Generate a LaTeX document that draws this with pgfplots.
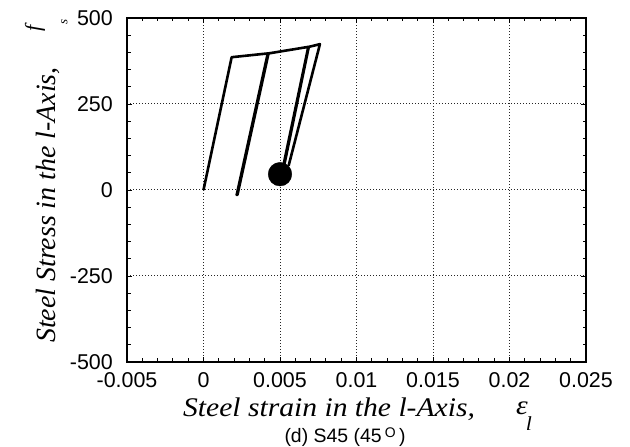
\documentclass[border=0pt]{standalone}
\usepackage{pgfplots}
\pgfplotsset{compat=1.18}
\usepackage{fontspec}
\setmainfont{Liberation Sans}
\newfontfamily\lab[FakeStretch=1.1]{Liberation Serif}
\newfontfamily\laby{Liberation Serif}
\begin{document}
\begin{tikzpicture}
\useasboundingbox (0,0) rectangle (630bp,447bp);
\begin{axis}[
  at={(127bp,85bp)}, anchor=south west,
  scale only axis, width=459bp, height=344bp,
  xmin=-0.005, xmax=0.025, ymin=-500, ymax=500,
  xtick={-0.005,0,0.005,0.01,0.015,0.02,0.025},
  xticklabels={-0.005,0,0.005,0.01,0.015,0.02,0.025},
  ytick={-500,-250,0,250,500},
  yticklabels={-500,-250,0,250,500},
  scaled x ticks=false, scaled y ticks=false,
  minor x tick num=4, minor y tick num=4,
  tick align=inside,
  major tick length=5bp, minor tick length=3.5bp,
  tick style={black, line width=0.9bp},
  axis line style={line width=2.2bp},
  grid=major,
  major grid style={black!85, dash pattern=on 1bp off 2bp, line width=1bp},
  xticklabel style={font=\fontsize{21.5}{25}\selectfont, inner sep=0pt, anchor=north, yshift=-10bp},
  yticklabel style={font=\fontsize{21.5}{25}\selectfont, inner sep=0pt, anchor=east, xshift=-14bp},
]
\addplot[black, line width=2.6bp, line join=round] coordinates {
(0,0)
(0.00184,386)
(0.00420,397)
(0.00217,-14)
(0.00222,-14)
(0.00425,397)
(0.00685,416)
(0.00523,73)
(0.00528,73)
(0.00688,416)
(0.00761,424)
(0.00556,70)
};
\addplot[only marks, mark=*, mark size=11.8bp, black] coordinates {(0.0050,46)};
\end{axis}
\node[anchor=base west, inner sep=0pt, font=\lab\itshape\fontsize{27}{30}\selectfont] at (183bp,31bp) {Steel strain in the l-Axis,};
\node[anchor=base, inner sep=0pt, font=\lab\itshape\fontsize{27}{30}\selectfont] at (522bp,33bp) {ε};
\node[anchor=base, inner sep=0pt, font=\lab\itshape\fontsize{20}{24}\selectfont] at (529bp,17bp) {l};
\node[anchor=base west, rotate=90, inner sep=0pt, font=\laby\itshape\fontsize{28}{30}\selectfont] at (55bp,104bp) {Steel Stress in the l-Axis,};
\node[rotate=90, inner sep=0pt, font=\laby\itshape\fontsize{22}{24}\selectfont] at (35bp,419bp) {f};
\node[rotate=90, inner sep=0pt, font=\laby\itshape\fontsize{13}{15}\selectfont] at (64.5bp,425.5bp) {s};
\node[anchor=base, inner sep=0pt, font=\fontsize{19.5}{22}\selectfont] at (345bp,5bp) {(d) S45 (45\,\raisebox{5bp}{\fontsize{14}{16}\selectfont O}\,)};
\end{tikzpicture}
\end{document}
